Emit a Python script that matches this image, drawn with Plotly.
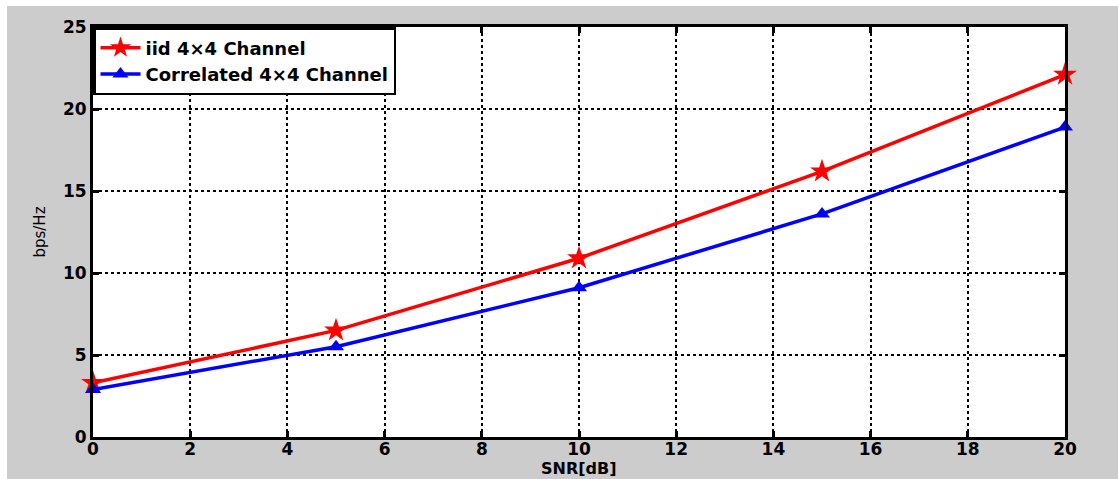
import plotly.graph_objects as go

snr = [0, 5, 10, 15, 20]
iid = [3.3, 6.5, 10.9, 16.2, 22.1]
corr = [2.9, 5.5, 9.1, 13.6, 18.9]
x_ticks = [0, 2, 4, 6, 8, 10, 12, 14, 16, 18, 20]
y_ticks = [0, 5, 10, 15, 20, 25]

W, H = 1118, 479
L, R, T, B = 93, 53, 27, 42
pw, ph = W - L - R, H - T - B

def px(xp):
    return (xp - L) / pw

def py(yp):
    return (H - B - yp) / ph

FONT = "DejaVu Sans"

fig = go.Figure()
fig.add_trace(go.Scatter(x=snr, y=iid, mode="lines+markers", name="iid 4×4 Channel",
                         line=dict(color="#ff0000", width=3.5), cliponaxis=False,
                         marker=dict(symbol="star", size=18, color="#ff0000")))
fig.add_trace(go.Scatter(x=snr, y=corr, mode="lines+markers", name="Correlated 4×4 Channel",
                         line=dict(color="#0000ff", width=3.5), cliponaxis=False,
                         marker=dict(symbol="triangle-up", size=14, color="#0000ff")))

axis_common = dict(showline=True, linecolor="black", linewidth=3, mirror="ticks",
                   ticks="inside", ticklen=6, tickwidth=3, tickcolor="black",
                   showgrid=True, gridcolor="black", gridwidth=1.8, griddash="dot",
                   zeroline=False,
                   tickfont=dict(family=FONT, size=17, color="black", weight="bold"))

fig.update_xaxes(range=[0, 20], tickvals=x_ticks, ticktext=[str(v) for v in x_ticks],
                 ticklabelstandoff=-5, **axis_common)
fig.update_yaxes(range=[0, 25], tickvals=y_ticks, ticktext=[str(v) for v in y_ticks],
                 title=dict(text="bps/Hz", font=dict(family=FONT, size=15, color="black"),
                            standoff=14),
                 **axis_common)

fig.update_layout(
    width=W, height=H,
    margin=dict(l=L, r=R, t=T, b=B, autoexpand=False),
    paper_bgcolor="#cccccc", plot_bgcolor="white",
    showlegend=True,
    legend=dict(x=0, y=1, xanchor="left", yanchor="top",
                bgcolor="white", bordercolor="black", borderwidth=2.5,
                font=dict(family=FONT, size=18, color="black", weight="bold"),
                tracegroupgap=0, itemwidth=40),
    annotations=[
        dict(text="<b>SNR[dB]</b>", xref="paper", yref="paper", x=0.5, y=py(468),
             xanchor="center", yanchor="middle", showarrow=False,
             font=dict(family=FONT, size=16, color="black")),
    ],
    shapes=[
        dict(type="rect", xref="paper", yref="paper", x0=px(-2), x1=px(W + 2), y0=py(6), y1=py(-2),
             fillcolor="white", line=dict(width=0), layer="below"),
        dict(type="rect", xref="paper", yref="paper", x0=px(-2), x1=px(7), y0=py(H + 2), y1=py(-2),
             fillcolor="white", line=dict(width=0), layer="below"),
    ],
)

fig.write_html("out.html", config={"displayModeBar": False},
               post_script="document.body.style.margin='0';document.body.style.overflow='hidden';")
